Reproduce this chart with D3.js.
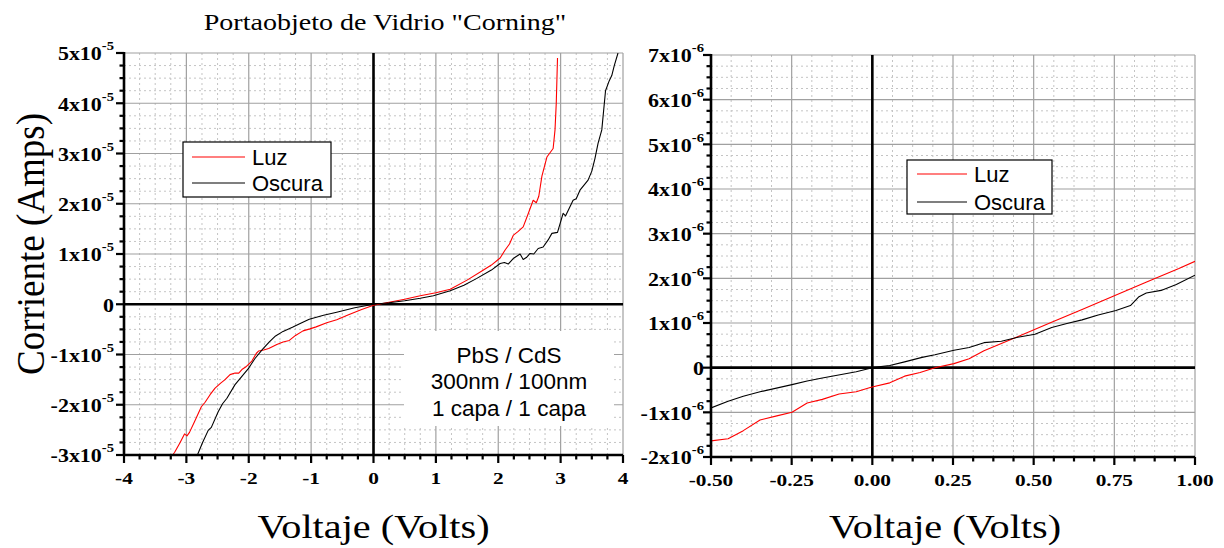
<!DOCTYPE html>
<html><head><meta charset="utf-8">
<script src="https://cdn.jsdelivr.net/npm/d3@7"></script>
<style>body{margin:0;background:#fff}svg{display:block}</style>
</head><body>
<svg id="c" width="1224" height="548"></svg>
<script>
// ---------- DATA ----------
const title = 'Portaobjeto de Vidrio "Corning"';
const yLabel = "Corriente (Amps)";
const xLabel = "Voltaje (Volts)";
const seriesNames = ["Luz", "Oscura"];
const annotation = ["PbS / CdS", "300nm / 100nm", "1 capa / 1 capa"];

// left panel ticks
const leftXTicks = [-4, -3, -2, -1, 0, 1, 2, 3, 4];
const leftYTicks = [-3e-5, -2e-5, -1e-5, 0, 1e-5, 2e-5, 3e-5, 4e-5, 5e-5];
const leftExp = -5;
// right panel ticks
const rightXTicks = [-0.5, -0.25, 0, 0.25, 0.5, 0.75, 1.0];
const rightYTicks = [-2e-6, -1e-6, 0, 1e-6, 2e-6, 3e-6, 4e-6, 5e-6, 6e-6, 7e-6];
const rightExp = -6;

// left panel: Luz (light)
const luzLeftV = [-3.27,-3.19,-3.10,-3.03,-2.99,-2.95,-2.87,-2.76,-2.70,-2.62,-2.54,-2.45,-2.38,-2.30,-2.22,-2.16,-2.11,-2.05,-1.95,-1.88,-1.84,-1.76,-1.68,-1.55,-1.45,-1.35,-1.25,-1.13,-1.02,-0.92,-0.75,-0.59,-0.40,-0.20,0,0.25,0.5,0.75,1.0,1.23,1.5,1.75,1.89,2.03,2.11,2.18,2.24,2.32,2.40,2.48,2.56,2.61,2.65,2.70,2.78,2.88,2.91,2.93,2.95];
const luzLeftI = [-3.08e-5,-2.95e-5,-2.75e-5,-2.58e-5,-2.62e-5,-2.55e-5,-2.34e-5,-2.04e-5,-1.95e-5,-1.80e-5,-1.67e-5,-1.57e-5,-1.50e-5,-1.40e-5,-1.37e-5,-1.37e-5,-1.30e-5,-1.25e-5,-1.13e-5,-0.98e-5,-0.93e-5,-0.91e-5,-0.88e-5,-0.80e-5,-0.75e-5,-0.72e-5,-0.62e-5,-0.53e-5,-0.49e-5,-0.45e-5,-0.37e-5,-0.31e-5,-0.21e-5,-0.11e-5,-0.02e-5,0.04e-5,0.10e-5,0.17e-5,0.23e-5,0.30e-5,0.48e-5,0.67e-5,0.78e-5,0.92e-5,1.08e-5,1.20e-5,1.37e-5,1.45e-5,1.54e-5,1.80e-5,2.07e-5,2.02e-5,2.15e-5,2.55e-5,2.93e-5,3.10e-5,3.47e-5,4.0e-5,4.9e-5];
// left panel: Oscura (dark)
const oscLeftV = [-2.84,-2.74,-2.65,-2.60,-2.49,-2.42,-2.35,-2.22,-2.10,-2.00,-1.90,-1.78,-1.67,-1.57,-1.45,-1.30,-1.15,-1.03,-0.80,-0.59,-0.30,0,0.25,0.5,0.75,0.96,1.23,1.45,1.65,1.89,2.03,2.10,2.16,2.24,2.35,2.40,2.45,2.51,2.57,2.64,2.72,2.80,2.86,2.95,3.04,3.08,3.20,3.25,3.31,3.44,3.50,3.55,3.60,3.66,3.72,3.78,3.82,3.86,3.92];
const oscLeftI = [-3.05e-5,-2.75e-5,-2.51e-5,-2.45e-5,-2.14e-5,-1.98e-5,-1.87e-5,-1.60e-5,-1.42e-5,-1.27e-5,-1.08e-5,-0.90e-5,-0.75e-5,-0.63e-5,-0.54e-5,-0.46e-5,-0.37e-5,-0.30e-5,-0.22e-5,-0.16e-5,-0.07e-5,0,0.03e-5,0.07e-5,0.12e-5,0.17e-5,0.27e-5,0.38e-5,0.51e-5,0.68e-5,0.81e-5,0.83e-5,0.80e-5,0.91e-5,1.0e-5,0.89e-5,0.93e-5,1.01e-5,1.00e-5,1.11e-5,1.14e-5,1.28e-5,1.41e-5,1.43e-5,1.81e-5,1.76e-5,2.07e-5,2.10e-5,2.27e-5,2.47e-5,2.65e-5,2.90e-5,3.20e-5,3.47e-5,4.25e-5,4.45e-5,4.55e-5,4.75e-5,5.0e-5];

// right panel: Luz
const luzRightV = [-0.5,-0.447,-0.40,-0.348,-0.296,-0.249,-0.202,-0.155,-0.103,-0.05,-0.004,0.054,0.10,0.148,0.194,0.253,0.30,0.346,0.45,0.55,0.65,0.75,0.85,0.95,1.0];
const luzRightI = [-1.64e-6,-1.59e-6,-1.41e-6,-1.17e-6,-1.08e-6,-1.0e-6,-0.79e-6,-0.71e-6,-0.59e-6,-0.54e-6,-0.44e-6,-0.34e-6,-0.19e-6,-0.11e-6,0.0,0.09e-6,0.20e-6,0.38e-6,0.69e-6,1.0e-6,1.30e-6,1.61e-6,1.92e-6,2.22e-6,2.38e-6];
// right panel: Oscura
const oscRightV = [-0.5,-0.447,-0.40,-0.348,-0.249,-0.202,-0.155,-0.05,0,0.054,0.10,0.154,0.194,0.253,0.30,0.346,0.40,0.451,0.504,0.556,0.603,0.65,0.70,0.755,0.80,0.825,0.849,0.895,0.942,1.0];
const oscRightI = [-0.90e-6,-0.75e-6,-0.64e-6,-0.54e-6,-0.38e-6,-0.30e-6,-0.23e-6,-0.09e-6,0,0.05e-6,0.13e-6,0.23e-6,0.29e-6,0.39e-6,0.45e-6,0.56e-6,0.59e-6,0.68e-6,0.75e-6,0.90e-6,0.99e-6,1.07e-6,1.18e-6,1.28e-6,1.39e-6,1.58e-6,1.67e-6,1.73e-6,1.86e-6,2.07e-6];

const colors = ["#ff0000", "#000000"];

// ---------- DRAW ----------
const svg = d3.select("#c");
const SERIF = "'Liberation Serif','Times New Roman',serif";
const SANS = "'Liberation Sans',Arial,sans-serif";
const STRETCH = 1.22; // horizontal stretch of the serif texts in the original

function zip(v, i) { return v.map((x, k) => [x, i[k]]); }

function serifText(parent, x, y, anchor, size, bold) {
  return parent.append("g").attr("transform", `translate(${x},${y}) scale(${STRETCH},1)`)
    .append("text").attr("text-anchor", anchor).attr("dominant-baseline", "central")
    .attr("font-family", SERIF).attr("font-size", size)
    .attr("font-weight", bold ? "bold" : "normal");
}

function panel(cfg) {
  const x = d3.scaleLinear().domain(cfg.xDom).range([cfg.left, cfg.right]);
  const y = d3.scaleLinear().domain(cfg.yDom).range([cfg.bottom, cfg.top]);
  const g = svg.append("g");
  const clipId = "clip" + cfg.id;
  svg.append("clipPath").attr("id", clipId).append("rect")
    .attr("x", cfg.left).attr("y", cfg.top)
    .attr("width", cfg.right - cfg.left).attr("height", cfg.bottom - cfg.top);

  const xMajorStep = cfg.xTicks[1] - cfg.xTicks[0];
  const yMajorStep = cfg.yTicks[1] - cfg.yTicks[0];
  const xMinor = d3.range(0, Math.round((cfg.xDom[1] - cfg.xDom[0]) / xMajorStep * 4) + 1)
    .map(k => cfg.xDom[0] + k * xMajorStep / 4);
  const yMinor = d3.range(0, Math.round((cfg.yDom[1] - cfg.yDom[0]) / yMajorStep * 4) + 1)
    .map(k => cfg.yDom[0] + k * yMajorStep / 4);

  // minor grid (dotted)
  const grid = g.append("g");
  grid.selectAll(".mgx").data(xMinor.filter((d, k) => k % 4 !== 0)).join("line")
    .attr("x1", d => x(d)).attr("x2", d => x(d)).attr("y1", cfg.top).attr("y2", cfg.bottom)
    .attr("stroke", "#c4c4c4").attr("stroke-width", 1).attr("stroke-dasharray", "2,3");
  grid.selectAll(".mgy").data(yMinor.filter((d, k) => k % 4 !== 0)).join("line")
    .attr("y1", d => y(d)).attr("y2", d => y(d)).attr("x1", cfg.left).attr("x2", cfg.right)
    .attr("stroke", "#c4c4c4").attr("stroke-width", 1).attr("stroke-dasharray", "2,3");
  // major grid
  grid.selectAll(".Mgx").data(cfg.xTicks).join("line")
    .attr("x1", d => x(d)).attr("x2", d => x(d)).attr("y1", cfg.top).attr("y2", cfg.bottom)
    .attr("stroke", "#a0a0a0").attr("stroke-width", 1.2);
  grid.selectAll(".Mgy").data(cfg.yTicks).join("line")
    .attr("y1", d => y(d)).attr("y2", d => y(d)).attr("x1", cfg.left).attr("x2", cfg.right)
    .attr("stroke", "#a0a0a0").attr("stroke-width", 1.2);

  // annotation white box (left panel)
  if (cfg.annotation) {
    const a = cfg.annotation;
    g.append("rect").attr("x", a.x0).attr("y", a.y0).attr("width", a.x1 - a.x0).attr("height", a.y1 - a.y0)
      .attr("fill", "#fff");
    g.selectAll(".ann").data(annotation).join("text")
      .attr("x", a.cx).attr("y", (d, k) => a.firstY + k * 26.5)
      .attr("text-anchor", "middle").attr("dominant-baseline", "central")
      .attr("font-family", SANS).attr("font-size", 22.5).attr("fill", "#000")
      .text(d => d);
  }

  // zero lines
  g.append("line").attr("x1", x(0)).attr("x2", x(0)).attr("y1", cfg.top).attr("y2", cfg.bottom)
    .attr("stroke", "#000").attr("stroke-width", 2.6);
  g.append("line").attr("x1", cfg.left).attr("x2", cfg.right).attr("y1", y(0)).attr("y2", y(0))
    .attr("stroke", "#000").attr("stroke-width", 2.6);

  // curves
  const line = d3.line().x(d => x(d[0])).y(d => y(d[1]));
  cfg.series.forEach((s, k) => {
    g.append("path").datum(s).attr("d", line).attr("fill", "none")
      .attr("stroke", colors[k]).attr("stroke-width", 1.1).attr("stroke-linejoin", "round")
      .attr("clip-path", `url(#${clipId})`);
  });

  // axes lines
  g.append("line").attr("x1", cfg.left).attr("x2", cfg.right).attr("y1", cfg.bottom).attr("y2", cfg.bottom)
    .attr("stroke", "#000").attr("stroke-width", 2.6);
  g.append("line").attr("x1", cfg.left).attr("x2", cfg.left).attr("y1", cfg.top - 1).attr("y2", cfg.bottom + 1)
    .attr("stroke", "#000").attr("stroke-width", 2.6);

  // ticks
  const isMajorX = d => cfg.xTicks.some(t => Math.abs(t - d) < 1e-9);
  const isMajorY = d => cfg.yTicks.some(t => Math.abs(t - d) < 1e-15);
  g.selectAll(".tx").data(xMinor).join("line")
    .attr("x1", d => x(d)).attr("x2", d => x(d)).attr("y1", cfg.bottom)
    .attr("y2", d => cfg.bottom + (isMajorX(d) ? 8 : 4.5))
    .attr("stroke", "#000").attr("stroke-width", 2.2);
  g.selectAll(".ty").data(yMinor).join("line")
    .attr("y1", d => y(d)).attr("y2", d => y(d)).attr("x1", cfg.left)
    .attr("x2", d => cfg.left - (isMajorY(d) ? 8 : 4.5))
    .attr("stroke", "#000").attr("stroke-width", 2.2);

  // tick labels
  cfg.xTicks.forEach(d => {
    serifText(g, x(d), cfg.bottom + 23, "middle", 17.5, true).text(cfg.xFmt(d));
  });
  cfg.yTicks.forEach(d => {
    const t = serifText(g, cfg.left - cfg.ylGap, y(d) + 1, "end", 18, true);
    if (d === 0) { t.text("0"); return; }
    const m = Math.round(d / Math.pow(10, cfg.exp));
    t.append("tspan").text(m + "x10");
    t.append("tspan").attr("dy", -8).attr("font-size", 12).text(String(cfg.exp));
  });

  // legend
  const L = cfg.legend;
  g.append("rect").attr("x", L.x0).attr("y", L.y0).attr("width", L.x1 - L.x0).attr("height", L.y1 - L.y0)
    .attr("fill", "#fff").attr("stroke", "#000").attr("stroke-width", 1.2);
  seriesNames.forEach((n, k) => {
    const yy = L.rows[k];
    g.append("line").attr("x1", L.lx0).attr("x2", L.lx1).attr("y1", yy).attr("y2", yy)
      .attr("stroke", colors[k]).attr("stroke-width", 1.2);
    g.append("text").attr("x", L.tx).attr("y", yy).attr("dominant-baseline", "central")
      .attr("font-family", SANS).attr("font-size", 22).text(n);
  });

  // x label
  serifText(svg, (cfg.left + cfg.right) / 2 + cfg.xlShift, 527, "middle", 33, false).text(xLabel);
  return { x, y };
}

panel({
  id: "L", left: 124, right: 623, top: 53, bottom: 455,
  xDom: [-4, 4], yDom: [-3e-5, 5e-5], xTicks: leftXTicks, yTicks: leftYTicks, exp: leftExp,
  xFmt: d => String(d), ylGap: 10, xlShift: 0,
  series: [zip(luzLeftV, luzLeftI), zip(oscLeftV, oscLeftI)],
  legend: { x0: 183, x1: 331, y0: 142, y1: 197, rows: [157, 183], lx0: 192, lx1: 245, tx: 252 },
  annotation: { x0: 404, x1: 614, y0: 331, y1: 426, cx: 509, firstY: 355 }
});
panel({
  id: "R", left: 711, right: 1195, top: 55, bottom: 457,
  xDom: [-0.5, 1.0], yDom: [-2e-6, 7e-6], xTicks: rightXTicks, yTicks: rightYTicks, exp: rightExp,
  xFmt: d => d.toFixed(2), ylGap: 7, xlShift: -8,
  series: [zip(luzRightV, luzRightI), zip(oscRightV, oscRightI)],
  legend: { x0: 907, x1: 1052, y0: 160, y1: 214, rows: [174, 202], lx0: 917, lx1: 967, tx: 974 }
});

// title
serifText(svg, 385, 22, "middle", 23, false).text(title);
// y label
svg.append("g").attr("transform", "translate(30,244) scale(1.1,1) rotate(-90)")
  .append("text").attr("text-anchor", "middle").attr("dominant-baseline", "central")
  .attr("font-family", SERIF).attr("font-size", 37).text(yLabel);
</script>
</body></html>
